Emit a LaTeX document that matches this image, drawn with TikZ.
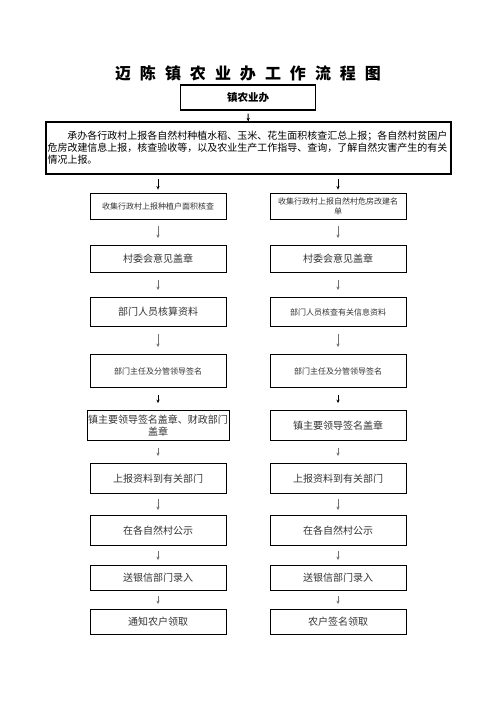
\documentclass[tikz,border=0pt]{standalone}
\usepackage{fontspec}
\setmainfont{Noto Sans CJK SC}
\usetikzlibrary{arrows.meta,positioning}

\newcommand{\tgap}{\hspace{9pt}}

\begin{document}
\begin{tikzpicture}[>={Stealth[length=3.5pt,width=3.2pt]}, node distance=53pt,
    stepbox/.style={draw, line width=0.9pt, minimum width=136pt, align=center,
      inner sep=1pt, text=black!80, font=\fontsize{10}{12}\selectfont},
    smalltext/.style={font=\fontsize{8}{10}\selectfont},
    flow/.style={->, draw=black!55, line width=0.5pt, shorten <=7pt, shorten >=7pt},
    short flow/.style={flow, shorten <=5pt, shorten >=5pt},
    bold flow/.style={flow, draw=black, line width=1pt}]
  \useasboundingbox (0,0) rectangle (496pt,-702pt);
  % title and office
  \node[font=\fontsize{16}{18}\selectfont\bfseries] (title) at (248pt,-73pt)
    {迈\tgap 陈\tgap 镇\tgap 农\tgap 业\tgap 办\tgap 工\tgap 作\tgap 流\tgap 程\tgap 图};
  \node[draw, line width=1.2pt, minimum width=135pt, minimum height=25pt,
        font=\fontsize{10.5}{12}\selectfont\bfseries] (office) at (248pt,-97.5pt) {镇农业办};
  % duties of the office
  \node[draw, line width=1.2pt, text width=402pt, inner xsep=1.5pt, minimum height=52pt,
        align=left, font=\fontsize{10}{12}\selectfont] (duty) at (248.5pt,-148pt)
    {\hspace*{2em}承办各行政村上报各自然村种植水稻、玉米、花生面积核查汇总上报；各自然村贫困户\\
     危房改建信息上报，核查验收等，以及农业生产工作指导、查询，了解自然灾害产生的有关\\
     情况上报。};

  % left column: planting area
  \node[stepbox, smalltext, minimum height=26pt] (l1) at (158pt,-206pt) {收集行政村上报种植户面积核查};
  \node[stepbox, minimum height=27pt, below of=l1] (l2) {村委会意见盖章};
  \node[stepbox, minimum height=29pt, below of=l2] (l3) {部门人员核算资料};
  \node[stepbox, smalltext, minimum height=33pt, below of=l3, yshift=-6pt] (l4) {部门主任及分管领导签名};
  \node[stepbox, minimum height=30pt, below of=l4, yshift=-1.5pt] (l5) {镇主要领导签名盖章、财政部门\\盖章};
  \node[stepbox, minimum height=30pt, below of=l5] (l6) {上报资料到有关部门};
  \node[stepbox, minimum height=30pt, below of=l6, yshift=1pt] (l7) {在各自然村公示};
  \node[stepbox, minimum height=25pt, below of=l7, yshift=5.5pt] (l8) {送银信部门录入};
  \node[stepbox, minimum height=25pt, below of=l8, yshift=9pt] (l9) {通知农户领取};

  % right column: dangerous houses
  \node[stepbox, smalltext, minimum height=26pt, right of=l1, xshift=127pt] (r1) {收集行政村上报自然村危房改建名\\单};
  \node[stepbox, minimum height=27pt, right of=l2, xshift=127pt] (r2) {村委会意见盖章};
  \node[stepbox, smalltext, minimum height=29pt, right of=l3, xshift=127pt] (r3) {部门人员核查有关信息资料};
  \node[stepbox, smalltext, minimum height=33pt, right of=l4, xshift=127pt] (r4) {部门主任及分管领导签名};
  \node[stepbox, minimum height=30pt, right of=l5, xshift=127pt] (r5) {镇主要领导签名盖章};
  \node[stepbox, minimum height=30pt, right of=l6, xshift=127pt] (r6) {上报资料到有关部门};
  \node[stepbox, minimum height=30pt, right of=l7, xshift=127pt] (r7) {在各自然村公示};
  \node[stepbox, minimum height=25pt, right of=l8, xshift=127pt] (r8) {送银信部门录入};
  \node[stepbox, minimum height=25pt, right of=l9, xshift=127pt] (r9) {农户签名领取};

  \coordinate (dl) at (duty.south -| l1);
  \coordinate (dr) at (duty.south -| r1);

  \draw[bold flow, shorten <=3pt, shorten >=0pt] (office) -- (duty);
  \draw[bold flow, shorten <=4pt, shorten >=3pt] (dl) -- (l1);
  \draw[bold flow, shorten <=4pt, shorten >=3pt] (dr) -- (r1);
  \draw[flow] (l1) -- (l2);
  \draw[flow] (l2) -- (l3);
  \draw[flow] (l3) -- (l4);
  \draw[bold flow] (l4) -- (l5);
  \draw[flow] (l5) -- (l6);
  \draw[short flow] (l6) -- (l7);
  \draw[short flow] (l7) -- (l8);
  \draw[short flow] (l8) -- (l9);
  \draw[flow] (r1) -- (r2);
  \draw[flow] (r2) -- (r3);
  \draw[flow] (r3) -- (r4);
  \draw[bold flow] (r4) -- (r5);
  \draw[flow] (r5) -- (r6);
  \draw[short flow] (r6) -- (r7);
  \draw[short flow] (r7) -- (r8);
  \draw[short flow] (r8) -- (r9);
\end{tikzpicture}
\end{document}
